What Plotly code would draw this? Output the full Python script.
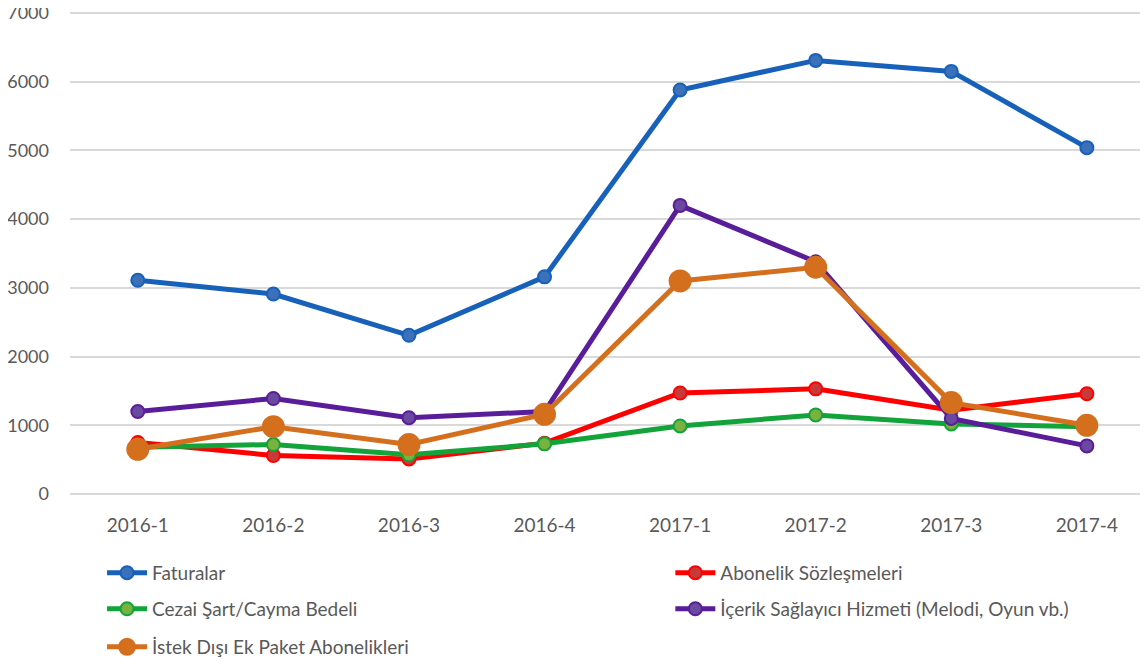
import plotly.graph_objects as go

periods = ["2016-1", "2016-2", "2016-3", "2016-4", "2017-1", "2017-2", "2017-3", "2017-4"]

faturalar = [3110, 2910, 2310, 3160, 5880, 6310, 6150, 5040]
abonelik = [750, 560, 510, 740, 1470, 1530, 1220, 1460]
cezai = [680, 720, 570, 730, 990, 1150, 1020, 980]
icerik = [1200, 1390, 1110, 1200, 4200, 3380, 1100, 700]
istek_disi = [650, 980, 720, 1160, 3100, 3300, 1330, 1000]

# name, values, line colour, marker fill, marker size
series = [
    ("Faturalar", faturalar, "#1761BA", "#3C70B8", 13),
    ("Abonelik Sözleşmeleri", abonelik, "#FF0000", "#C83A3A", 13),
    ("Cezai Şart/Cayma Bedeli", cezai, "#12A43A", "#79B23E", 13),
    ("İçerik Sağlayıcı Hizmeti (Melodi, Oyun vb.)", icerik, "#5A1D99", "#6A4AA0", 13),
    ("İstek Dışı Ek Paket Abonelikleri", istek_disi, "#D46F1E", "#D46F1E", 21),
]

# legend slots (paper coords): two columns, three rows below the plot
leg_pos = [(0.0295, -0.164), (0.5528, -0.164), (0.0295, -0.239), (0.5528, -0.239), (0.0295, -0.318)]

font = dict(family="Lato, Open Sans, sans-serif", size=19, color="#595959")
ytick_font = dict(family="Lato, Open Sans, sans-serif", size=18, color="#595959")

fig = go.Figure()
layout_legends = {}
for i, (name, vals, color, fill, size) in enumerate(series):
    key = "legend" if i == 0 else f"legend{i + 1}"
    fig.add_trace(go.Scatter(
        x=periods, y=vals, name=name, mode="lines+markers",
        line=dict(color=color, width=5),
        marker=dict(size=size, color=fill, line=dict(color=color, width=2)),
        legend=key, showlegend=True,
    ))
    lx, ly = leg_pos[i]
    layout_legends[key] = dict(x=lx, y=ly * 481 / 483, orientation="h",
                               xanchor="left", yanchor="middle", font=font,
                               bgcolor="rgba(0,0,0,0)", itemwidth=40)

fig.update_layout(
    width=1148, height=666,
    showlegend=True,
    margin=dict(l=62, r=0, t=3, b=180, autoexpand=False),
    plot_bgcolor="white", paper_bgcolor="white",
    font=font,
    xaxis=dict(type="category", range=[-0.5, 7.51], showgrid=False, showline=False,
               ticks="", ticklabelstandoff=18, tickfont=font, automargin=False),
    yaxis=dict(range=[0, 7029], tickvals=[0, 1000, 2000, 3000, 4000, 5000, 6000, 7000],
               showgrid=True, gridcolor="#D9D9D9",
               gridwidth=1.5, zeroline=True, zerolinecolor="#D9D9D9", zerolinewidth=1.5,
               showline=False, ticklabelstandoff=20, tickfont=ytick_font,
               ticklabeloverflow="allow", automargin=False),
    **layout_legends,
)

fig.write_html("out.html")
